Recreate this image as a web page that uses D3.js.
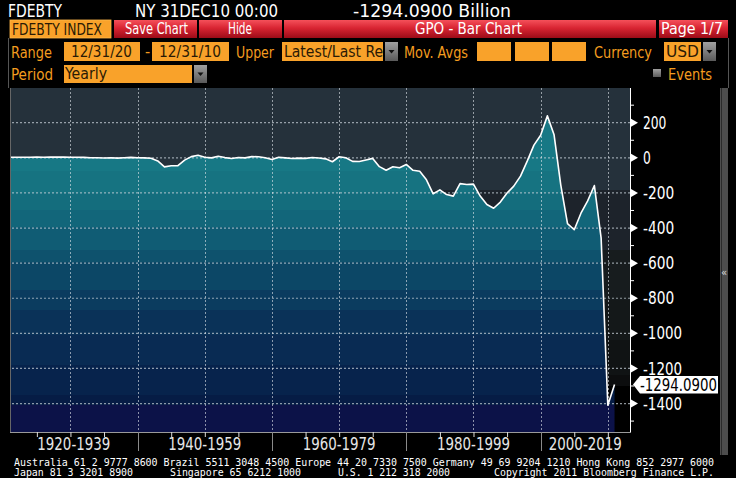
<!DOCTYPE html>
<html>
<head>
<meta charset="utf-8">
<script src="https://cdn.jsdelivr.net/npm/d3@7"></script>
<style>
  body { margin: 0; background: #000; }
  svg { display: block; }
  text { font-family: "Liberation Sans Narrow", "DejaVu Sans Condensed", "DejaVu Sans", sans-serif; }
</style>
</head>
<body>
<script>
// US federal surplus / deficit, billions USD, yearly (12/31)
const years = [
  1920, 1921, 1922, 1923, 1924, 1925, 1926, 1927, 1928, 1929,
  1930, 1931, 1932, 1933, 1934, 1935, 1936, 1937, 1938, 1939,
  1940, 1941, 1942, 1943, 1944, 1945, 1946, 1947, 1948, 1949,
  1950, 1951, 1952, 1953, 1954, 1955, 1956, 1957, 1958, 1959,
  1960, 1961, 1962, 1963, 1964, 1965, 1966, 1967, 1968, 1969,
  1970, 1971, 1972, 1973, 1974, 1975, 1976, 1977, 1978, 1979,
  1980, 1981, 1982, 1983, 1984, 1985, 1986, 1987, 1988, 1989,
  1990, 1991, 1992, 1993, 1994, 1995, 1996, 1997, 1998, 1999,
  2000, 2001, 2002, 2003, 2004, 2005, 2006, 2007, 2008, 2009,
  2010
];
const deficit = [
  0.3, 0.5, 0.7, 0.7, 1.0, 0.7, 0.9, 1.2, 0.9, 0.7,
  0.7, -0.5, -2.7, -2.6, -3.6, -2.8, -4.3, -2.2, -0.1, -2.8,
  -2.9, -4.9, -20.5, -54.6, -47.6, -47.6, -15.9, 4.0, 11.8, 0.6,
  -3.1, 6.1, -1.5, -6.5, -1.2, -3.0, 3.9, 3.4, -2.8, -12.8,
  0.3, -3.3, -7.1, -4.8, -5.9, -1.4, -3.7, -8.6, -25.2, 3.2,
  -2.8, -23.0, -23.4, -14.9, -6.1, -53.2, -73.7, -53.7, -59.2, -40.7,
  -73.8, -79.0, -128.0, -207.8, -185.4, -212.3, -221.2, -149.7, -155.2, -152.6,
  -221.0, -269.2, -290.3, -255.1, -203.2, -164.0, -107.4, -21.9, 69.3, 125.6,
  236.2, 128.2, -157.8, -377.6, -412.7, -318.3, -248.2, -160.7, -458.6, -1412.7,
  -1294.09
];
const yTicks = [200, 0, -200, -400, -600, -800, -1000, -1200, -1400];
const yMinorTicks = [300, 100, -100, -300, -500, -700, -900, -1100, -1300, -1500];
const gridYears = [1930, 1940, 1950, 1960, 1970, 1980, 1990, 2000, 2010];
const fiveYearTicks = [1925, 1930, 1935, 1945, 1950, 1955, 1965, 1970, 1975,
  1985, 1990, 1995, 2005, 2010];
const periodStarts = [1920, 1940, 1960, 1980, 2000];
const periodLabels = ["1920-1939", "1940-1959", "1960-1979", "1980-1999", "2000-2019"];
const lastLabel = "-1294.0900";

const data = years.map((yr, i) => ({ year: yr, value: deficit[i] }));

const W = 736, H = 478;
const plot = { left: 10, right: 630, top: 88, bottom: 432 };

const svg = d3.select("body").append("svg").attr("width", W).attr("height", H);
svg.append("rect").attr("width", W).attr("height", H).attr("fill", "#000");

const x = d3.scaleTime()
  .domain([new Date(1921, 0, 1), new Date(2013, 3, 20)])
  .range([plot.left, plot.right]);
const y = d3.scaleLinear().domain([-1565, 395]).range([plot.bottom, plot.top]);
const dateOf = (yr) => new Date(yr, 11, 31);
const jan1 = (yr) => new Date(yr, 0, 1);

const defs = svg.append("defs");
defs.append("clipPath").attr("id", "plotclip")
  .append("rect")
  .attr("x", plot.left).attr("y", plot.top)
  .attr("width", plot.right - plot.left).attr("height", plot.bottom - plot.top);

// dash pattern for the vertical grid
const GRID = "rgba(225,230,235,0.6)";
defs.append("pattern").attr("id", "vdash").attr("patternUnits", "userSpaceOnUse")
  .attr("width", 4).attr("height", 4)
  .append("rect").attr("width", 4).attr("height", 2).attr("fill", GRID);

// stepped gradients (bands like the terminal rendering)
function bandGradient(id, bands) {
  const g = defs.append("linearGradient").attr("id", id)
    .attr("gradientUnits", "userSpaceOnUse")
    .attr("x1", 0).attr("x2", 0).attr("y1", plot.top).attr("y2", plot.bottom);
  const off = (py) => (py - plot.top) / (plot.bottom - plot.top);
  bands.forEach((b, i) => {
    const end = i < bands.length - 1 ? bands[i + 1][0] : plot.bottom;
    g.append("stop").attr("offset", off(b[0])).attr("stop-color", b[1]);
    g.append("stop").attr("offset", off(end)).attr("stop-color", b[1]);
  });
}
bandGradient("bg", [
  [88, "#25313b"], [190, "#1d232b"], [250, "#171c1e"], [300, "#141819"],
  [340, "#101314"], [375, "#0c0d0e"], [386, "#000000"]
]);
bandGradient("fill", [
  [88, "#177885"], [171, "#167381"], [193, "#146d7d"], [210, "#12667a"],
  [227, "#105c74"], [250, "#0e526d"], [262, "#0c4766"], [290, "#0b3c5f"],
  [310, "#0a3258"], [335, "#092b53"], [365, "#07234c"], [395, "#061c45"],
  [405, "#0c1248"]
]);

// ---------- header ----------
function txt(str, tx, ty, opt) {
  const t = svg.append("text").attr("x", tx).attr("y", ty).text(str)
    .attr("fill", opt.color || "#fff")
    .style("font-size", (opt.size || 15) + "px");
  if (opt.family) t.style("font-family", opt.family);
  if (opt.w) t.attr("textLength", opt.w).attr("lengthAdjust", "spacingAndGlyphs");
  if (opt.anchor) t.attr("text-anchor", opt.anchor);
  return t;
}
const ORANGE = "#f9a22a";
const ORANGE_TXT = "#f39c1f";

txt("FDEBTY", 8, 17, { size: 17, w: 54, family: "DejaVu Sans" });
txt("NY 31DEC10 00:00", 135, 17, { size: 17, w: 143, family: "DejaVu Sans" });
txt("-1294.0900 Billion", 353, 17, { size: 17, w: 158, family: "DejaVu Sans" });

const red = defs.append("linearGradient").attr("id", "red")
  .attr("x1", 0).attr("x2", 0).attr("y1", 0).attr("y2", 1);
red.append("stop").attr("offset", 0).attr("stop-color", "#f4505a");
red.append("stop").attr("offset", 0.45).attr("stop-color", "#d82432");
red.append("stop").attr("offset", 1).attr("stop-color", "#9c0c18");
const grey = defs.append("linearGradient").attr("id", "grey")
  .attr("x1", 0).attr("x2", 0).attr("y1", 0).attr("y2", 1);
grey.append("stop").attr("offset", 0).attr("stop-color", "#a0a0a0");
grey.append("stop").attr("offset", 1).attr("stop-color", "#5a5a5a");

svg.append("rect").attr("x", 10).attr("y", 20).attr("width", 101).attr("height", 18)
  .attr("fill", ORANGE).attr("stroke", "#ffb84a").attr("stroke-width", 0.8);
txt("FDEBTY INDEX", 12, 35, { size: 15, w: 90, color: "#2a1a05" });

const redButtons = [
  { x0: 114, x1: 197, label: "Save Chart", tx: 125, w: 63 },
  { x0: 199, x1: 282, label: "Hide", tx: 228, w: 24 },
  { x0: 284, x1: 656, label: "GPO - Bar Chart", tx: 415, w: 107 },
  { x0: 659, x1: 728, label: "Page 1/7", tx: 661, w: 62 }
];
redButtons.forEach((b) => {
  svg.append("rect").attr("x", b.x0).attr("y", 20).attr("width", b.x1 - b.x0).attr("height", 18)
    .attr("fill", "url(#red)");
  txt(b.label, b.tx, 34, { size: 15, w: b.w });
});

// frame lines around the controls
svg.append("path").attr("d", "M8.5,38V88M728.5,38V88")
  .attr("stroke", "#555").attr("fill", "none");

function box(x0, x1, y0, y1, label, tx, w) {
  svg.append("rect").attr("x", x0).attr("y", y0).attr("width", x1 - x0).attr("height", y1 - y0)
    .attr("fill", ORANGE);
  if (label) txt(label, tx, y1 - 4, { size: 16, w: w, color: "#2a1a05" });
}
function dropdown(x0, y0, y1) {
  svg.append("rect").attr("x", x0).attr("y", y0).attr("width", 13).attr("height", y1 - y0)
    .attr("fill", "url(#grey)");
  const cx = x0 + 6.5, cy = (y0 + y1) / 2;
  svg.append("path").attr("d", `M${cx - 3},${cy - 1.5}L${cx + 3},${cy - 1.5}L${cx},${cy + 2}Z`)
    .attr("fill", "#111");
}

txt("Range", 11, 58, { size: 16, w: 41, color: ORANGE_TXT });
box(64, 140, 42, 61, "12/31/20", 71, 61);
txt("-", 145, 57, { size: 16, color: ORANGE_TXT });
box(152, 229, 42, 61, "12/31/10", 159, 62);
txt("Upper", 236, 58, { size: 16, w: 38, color: ORANGE_TXT });
box(282, 383, 42, 61, "Latest/Last Re", 284, 99);
dropdown(385, 42, 61);
txt("Mov. Avgs", 404, 58, { size: 16, w: 64, color: ORANGE_TXT });
box(477, 511, 42, 61);
box(515, 549, 42, 61);
box(552, 586, 42, 61);
txt("Currency", 594, 58, { size: 16, w: 58, color: ORANGE_TXT });
box(664, 701, 42, 61, "USD", 666, 33);
dropdown(703, 42, 61);

txt("Period", 11, 80, { size: 16, w: 42, color: ORANGE_TXT });
box(64, 192, 65, 83, "Yearly", 65, 42);
dropdown(194, 65, 83);
svg.append("rect").attr("x", 653).attr("y", 69).attr("width", 8).attr("height", 8)
  .attr("fill", "url(#grey)");
txt("Events", 668, 80, { size: 16, w: 44, color: ORANGE_TXT });

// ---------- plot ----------
const chart = svg.append("g").attr("clip-path", "url(#plotclip)");
chart.append("rect")
  .attr("x", plot.left).attr("y", plot.top)
  .attr("width", plot.right - plot.left).attr("height", plot.bottom - plot.top)
  .attr("fill", "url(#bg)");

const area = d3.area()
  .x((d) => x(dateOf(d.year)))
  .y0(plot.bottom)
  .y1((d) => y(d.value));
const line = d3.line()
  .x((d) => x(dateOf(d.year)))
  .y((d) => y(d.value));

chart.append("path").datum(data).attr("d", area).attr("fill", "url(#fill)");

// horizontal grid through the axis generator
const hGrid = svg.append("g").attr("transform", `translate(${plot.right},0)`)
  .call(d3.axisLeft(y).tickValues(yTicks).tickSize(plot.right - plot.left).tickFormat(""));
hGrid.select(".domain").remove();
hGrid.selectAll(".tick line")
  .attr("stroke", "#c8d0d8")
  .attr("stroke-opacity", 0.7)
  .attr("stroke-width", 1.2)
  .attr("stroke-dasharray", "2,2");

// vertical grid
svg.append("g").selectAll("rect").data(gridYears).join("rect")
  .attr("x", (d) => Math.round(x(jan1(d)))).attr("width", 1)
  .attr("y", plot.top).attr("height", plot.bottom - plot.top)
  .attr("fill", "url(#vdash)");

svg.append("path").datum(data).attr("d", line)
  .attr("clip-path", "url(#plotclip)")
  .attr("fill", "none").attr("stroke", "#fff").attr("stroke-width", 1.6)
  .attr("stroke-linejoin", "round");

svg.append("line").attr("x1", plot.left + 0.5).attr("x2", plot.left + 0.5)
  .attr("y1", plot.top).attr("y2", plot.bottom).attr("stroke", "#666");

// ---------- right axis ----------
const yAxis = svg.append("g").attr("transform", `translate(${plot.right},0)`)
  .call(d3.axisRight(y).tickValues(yTicks).tickSize(0).tickPadding(13)
    .tickFormat((d) => String(d)));
yAxis.select(".domain").remove();
yAxis.selectAll(".tick").append("path")
  .attr("d", "M1,-4L8,0L1,4Z").attr("fill", "#fff");
yAxis.selectAll(".tick text")
  .attr("fill", "#fff")
  .style("font-size", "17px")
  .style("font-family", "\"Liberation Sans Narrow\", \"DejaVu Sans Condensed\", \"DejaVu Sans\", sans-serif")
  .attr("dy", "0.36em")
  .each(function () {
    const n = this.textContent.length;
    d3.select(this).attr("textLength", n * 7.8).attr("lengthAdjust", "spacingAndGlyphs");
  });

const yMinor = svg.append("g").attr("transform", `translate(${plot.right},0)`)
  .call(d3.axisRight(y).tickValues(yMinorTicks).tickSize(4).tickFormat(""));
yMinor.select(".domain").remove();
yMinor.selectAll(".tick line").attr("stroke", "#fff");

svg.append("line").attr("x1", plot.right + 0.5).attr("x2", plot.right + 0.5)
  .attr("y1", plot.top).attr("y2", plot.bottom + 1).attr("stroke", "#fff");

// last value callout
const yl = y(deficit[deficit.length - 1]);
svg.append("path")
  .attr("d", `M633,${yl}L640,${yl - 8.5}H718V${yl + 9}H640Z`)
  .attr("fill", "#fff");
txt(lastLabel, 640, yl + 7, { size: 17, w: 77, color: "#000" });

// ---------- bottom axis ----------
svg.append("line").attr("x1", plot.left).attr("x2", plot.right + 1)
  .attr("y1", plot.bottom + 0.5).attr("y2", plot.bottom + 0.5).attr("stroke", "#9a9a9a");

const xMinor = svg.append("g").attr("transform", `translate(0,${plot.bottom})`)
  .call(d3.axisBottom(x).tickValues(fiveYearTicks.map(jan1)).tickSize(5).tickFormat(""));
xMinor.select(".domain").remove();
xMinor.selectAll(".tick line").attr("stroke", "#ddd");

svg.append("g").selectAll("line").data(periodStarts.slice(1)).join("line")
  .attr("x1", (d) => Math.round(x(jan1(d))) + 0.5).attr("x2", (d) => Math.round(x(jan1(d))) + 0.5)
  .attr("y1", plot.bottom).attr("y2", plot.bottom + 19)
  .attr("stroke", "#8a8a8a");

svg.append("g").selectAll("text").data(periodStarts).join("text")
  .attr("x", (d) => {
    const a = Math.max(plot.left, x(jan1(d)));
    const b = Math.min(plot.right, x(jan1(d + 20)));
    return (a + b) / 2;
  })
  .attr("y", 450)
  .attr("text-anchor", "middle")
  .attr("fill", "#e6e6e6")
  .style("font-size", "18px")
  .attr("textLength", 73).attr("lengthAdjust", "spacingAndGlyphs")
  .text((d, i) => periodLabels[i]);

// scroll strip
svg.append("rect").attr("x", 720).attr("y", 88).attr("width", 8).attr("height", 367)
  .attr("fill", "#4d4d4d");
svg.append("line").attr("x1", 721.5).attr("x2", 721.5).attr("y1", 88).attr("y2", 455)
  .attr("stroke", "#2a2a2a");
txt("\u00ab", 721, 276, { size: 10, color: "#ddd", family: "DejaVu Sans" });

// ---------- footer ----------
const mono = "DejaVu Sans Mono";
txt("Australia 61 2 9777 8600 Brazil 5511 3048 4500 Europe 44 20 7330 7500 Germany 49 69 9204 1210 Hong Kong 852 2977 6000",
  14, 466, { size: 10, w: 700, family: mono });
txt("Japan 81 3 3201 8900", 14, 476, { size: 10, w: 119, family: mono });
txt("Singapore 65 6212 1000", 170, 476, { size: 10, w: 131, family: mono });
txt("U.S. 1 212 318 2000", 338, 476, { size: 10, w: 112, family: mono });
txt("Copyright 2011 Bloomberg Finance L.P.", 494, 476, { size: 10, w: 220, family: mono });
</script>
</body>
</html>
